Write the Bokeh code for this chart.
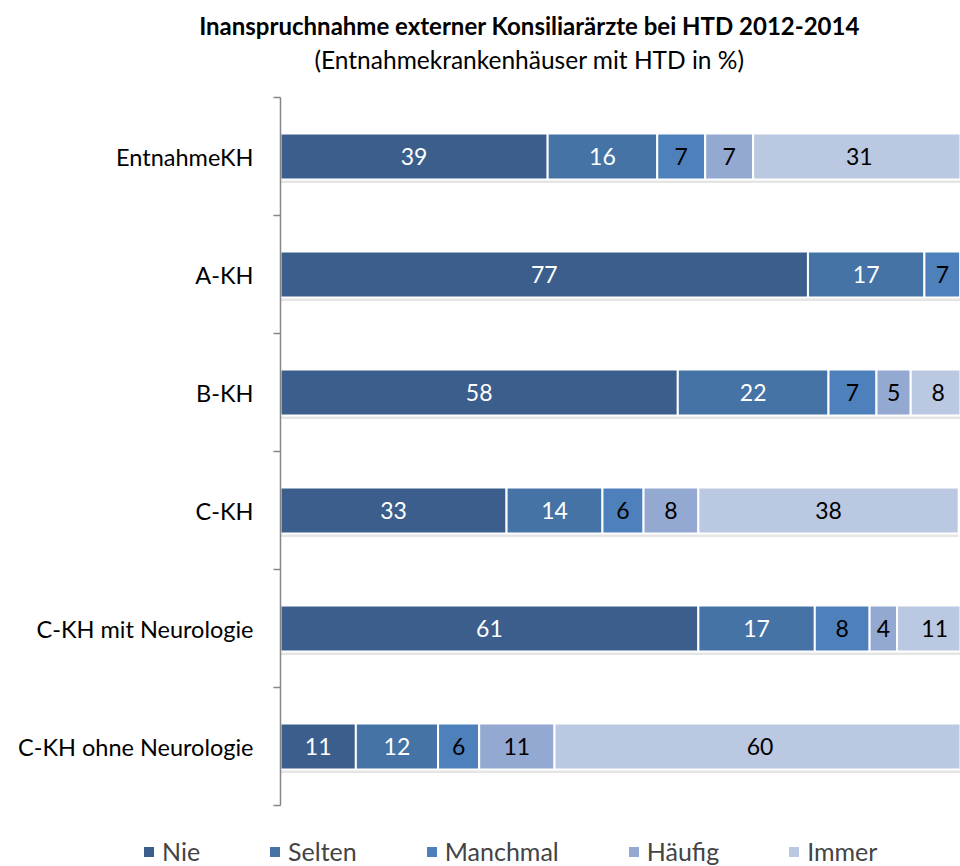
from bokeh.plotting import figure
from bokeh.models import Range1d, FixedTicker, ColumnDataSource, Legend, LegendItem, Label
from bokeh.core.properties import value
from bokeh.embed import file_html
from bokeh.resources import INLINE

categories = ["EntnahmeKH", "A-KH", "B-KH", "C-KH", "C-KH mit Neurologie", "C-KH ohne Neurologie"]
series = ["Nie", "Selten", "Manchmal", "Häufig", "Immer"]
nie = [39, 77, 58, 33, 61, 11]
selten = [16, 17, 22, 14, 17, 12]
manchmal = [7, 7, 7, 6, 8, 6]
haeufig = [7, 0, 5, 8, 4, 11]
immer = [31, 0, 8, 38, 11, 60]
values_by_series = [nie, selten, manchmal, haeufig, immer]
colors = ["#3B5E8C", "#4573A6", "#4E80BC", "#94A9D1", "#BBC8E1"]
label_colors = ["#FFFFFF", "#FFFFFF", "#000000", "#000000", "#000000"]
title_text = "Inanspruchnahme externer Konsiliarärzte bei HTD 2012-2014"
subtitle_text = "(Entnahmekrankenhäuser mit HTD in %)"

FONT = "Lato"
ypos = list(range(len(categories)))

W, H = 960, 866
PX_PER_PCT = 6.85
AXIS_X = 280          # screen x of the 0 % line
TOP = 97              # screen y of the top of the category area
BAND = 118            # pixels per category band
x_min = -AXIS_X / PX_PER_PCT
x_max = (W - AXIS_X) / PX_PER_PCT
y_top = -0.5 - TOP / BAND
y_bottom = -0.5 + (H - TOP) / BAND

p = figure(width=W, height=H, x_range=Range1d(x_min, x_max), y_range=Range1d(y_bottom, y_top),
           output_backend="svg", toolbar_location=None, x_axis_location=None,
           min_border_left=0, min_border_right=0, min_border_top=0, min_border_bottom=0)
p.outline_line_color = None
p.grid.visible = False
p.background_fill_color = "white"
p.border_fill_color = "white"

bar_h = 0.39
totals = [sum(v[i] for v in values_by_series) for i in range(len(categories))]
# soft shadow under bars
p.hbar(y=[y + 0.03 for y in ypos], left=0, right=totals, height=bar_h,
       fill_color="#000000", fill_alpha=0.10, line_color=None)

renderers = []
cum = [0] * len(categories)
for s, vals, c, lc in zip(series, values_by_series, colors, label_colors):
    left = cum[:]
    right = [l + v for l, v in zip(left, vals)]
    src = ColumnDataSource(dict(y=ypos, left=left, right=right))
    r = p.hbar(y="y", left="left", right="right", height=bar_h, source=src,
               fill_color=c, line_color="white", line_width=2)
    renderers.append(r)
    lx, ly, lt = [], [], []
    for i, v in enumerate(vals):
        if v > 0:
            cx = (left[i] + right[i]) / 2
            if cx > x_max - 2:   # keep label inside the visible part of a clipped segment
                cx = (left[i] + min(right[i], x_max)) / 2
            lx.append(cx)
            ly.append(ypos[i])
            lt.append(str(v))
    p.text(x=lx, y=ly, text=lt, text_align="center", text_baseline="middle",
           text_font=value(FONT), text_font_size="23px", text_color=lc)
    cum = right

ax = p.yaxis[0]
ax.fixed_location = 0
ax.bounds = (-0.5, len(categories) - 0.5)
ax.ticker = FixedTicker(ticks=ypos, minor_ticks=[y - 0.5 for y in ypos] + [ypos[-1] + 0.5])
ax.major_label_overrides = {y: c for y, c in zip(ypos, categories)}
ax.axis_line_color = "#868686"
ax.axis_line_width = 1.5
ax.major_tick_out = 0
ax.major_tick_in = 0
ax.minor_tick_out = 7
ax.minor_tick_in = 0
ax.minor_tick_line_color = "#868686"
ax.minor_tick_line_width = 1.5
ax.major_label_standoff = 20
ax.major_label_text_font = FONT
ax.major_label_text_font_size = "23.5px"
ax.major_label_text_color = "#000000"

legend = Legend(items=[LegendItem(label=s, renderers=[r]) for s, r in zip(series, renderers)],
                orientation="horizontal", location=(141, 0), spacing=67,
                label_standoff=6, glyph_width=15, glyph_height=15,
                label_text_font=FONT, label_text_font_size="25px",
                border_line_color=None, background_fill_alpha=0, padding=0, margin=0)
p.add_layout(legend, "center")

p.add_layout(Label(x=529, y=H - 25, x_units="screen", y_units="screen", text=title_text,
                   text_align="center", text_baseline="middle", text_font=FONT,
                   text_font_size="24px", text_font_style="bold", text_color="#000000"))
p.add_layout(Label(x=529, y=H - 59, x_units="screen", y_units="screen", text=subtitle_text,
                   text_align="center", text_baseline="middle", text_font=FONT,
                   text_font_size="24.5px", text_font_style="normal", text_color="#000000"))

open("out.html", "w").write(file_html(p, INLINE))
